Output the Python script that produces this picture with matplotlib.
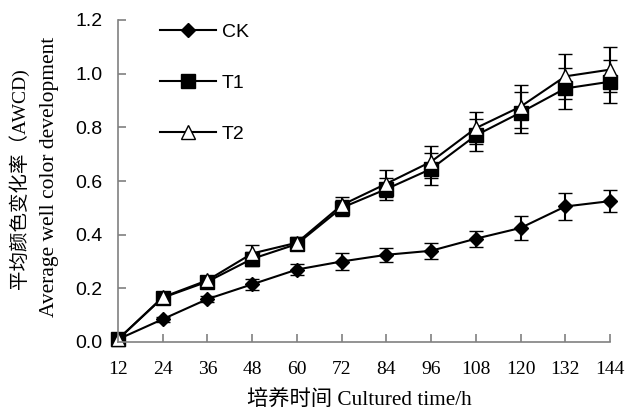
import numpy as np
import matplotlib
matplotlib.use("Agg")
import matplotlib.pyplot as plt

# Data
hours = ["12", "24", "36", "48", "60", "72", "84", "96", "108", "120", "132", "144"]
ck = [0.01, 0.085, 0.16, 0.215, 0.27, 0.30, 0.325, 0.34, 0.385, 0.425, 0.505, 0.525]
ck_err = [0.005, 0.01, 0.012, 0.02, 0.022, 0.032, 0.027, 0.03, 0.03, 0.045, 0.05, 0.042]
t1 = [0.01, 0.165, 0.225, 0.31, 0.365, 0.50, 0.57, 0.645, 0.77, 0.855, 0.945, 0.97]
t1_err = [0.005, 0.012, 0.015, 0.025, 0.02, 0.03, 0.04, 0.06, 0.06, 0.075, 0.075, 0.08]
t2 = [0.01, 0.167, 0.23, 0.33, 0.37, 0.51, 0.59, 0.672, 0.797, 0.877, 0.99, 1.015]
t2_err = [0.005, 0.012, 0.015, 0.03, 0.02, 0.03, 0.05, 0.06, 0.06, 0.08, 0.083, 0.085]

sans = ["Liberation Sans", "DejaVu Sans"]
serif = ["Liberation Serif", "Noto Sans CJK SC", "DejaVu Serif"]
mixed = ["Liberation Serif", "Noto Sans CJK SC"]

fig = plt.figure(figsize=(6.29, 4.12), dpi=100)
ax = fig.add_axes([118 / 629, 1 - 342 / 412, 492 / 629, 322 / 412])

x = np.arange(len(hours))
common = dict(color="black", linewidth=1.5, elinewidth=1.5, capsize=4.7, capthick=1.5,
              clip_on=False, markeredgewidth=1)
c1 = ax.errorbar(x, ck, yerr=ck_err, marker="D", markersize=7.2, markerfacecolor="black",
                 label="CK", **common)
c2 = ax.errorbar(x, t1, yerr=t1_err, marker="s", markersize=9.8, markerfacecolor="black",
                 label="T1", **common)
c3 = ax.errorbar(x, t2, yerr=t2_err, marker="^", markersize=10, markerfacecolor="white",
                 label="T2", **common)

ax.set_xlim(0, len(hours) - 1)
ax.set_ylim(0, 1.2)
ax.set_xticks(x)
ax.set_xticklabels(hours, family=serif, fontsize=14)
ax.set_yticks(np.arange(0, 1.21, 0.2))
ax.set_yticklabels(["%.1f" % v for v in np.arange(0, 1.21, 0.2)], family=sans, fontsize=14)

for side in ["top", "right"]:
    ax.spines[side].set_visible(False)
for side in ["left", "bottom"]:
    ax.spines[side].set_color("#808080")
    ax.spines[side].set_linewidth(1.2)
ax.tick_params(axis="both", direction="in", length=6, color="#808080", width=1.2)
ax.tick_params(axis="y", pad=11)
ax.tick_params(axis="x", pad=14)

# legend shows line + marker only, no error bars
handles = [c1[0], c2[0], c3[0]]
ax.legend(handles, ["CK", "T1", "T2"], loc="upper left", bbox_to_anchor=(0.085, 0.989),
          frameon=False, prop={"family": sans, "size": 14}, handlelength=2.9,
          handletextpad=0.3, labelspacing=1.72, borderpad=0, borderaxespad=0)

fig.text(359 / 629, 1 - 401 / 412, "培养时间 Cultured time/h", ha="center", va="center",
         family=mixed, fontsize=15.3)
fig.text(19 / 629, 1 - 179 / 412, "平均颜色变化率（AWCD)", ha="center", va="center",
         rotation=90, family=mixed, fontsize=14)
fig.text(50 / 629, 1 - 177 / 412, "Average well color development", ha="center", va="center",
         rotation=90, family=mixed, fontsize=15.5)

fig.savefig("out.png", dpi=100)
